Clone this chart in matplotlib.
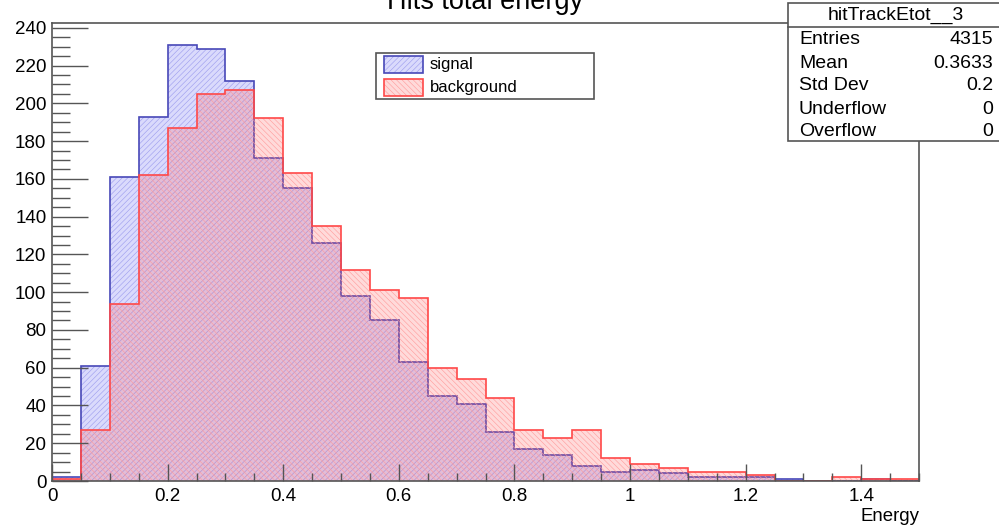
import numpy as np
import matplotlib
matplotlib.use("Agg")
import matplotlib.pyplot as plt
from matplotlib.patches import Rectangle
from matplotlib.ticker import MultipleLocator

plt.rcParams['font.family'] = ['Liberation Sans', 'DejaVu Sans']
plt.rcParams['hatch.linewidth'] = 0.4

# histogram data: 30 bins of 0.05 from 0 to 1.5
edges = np.linspace(0, 1.5, 31)
signal = [2, 61, 161, 193, 231, 229, 212, 171, 155, 126,
          98, 85, 63, 45, 41, 26, 17, 14, 8, 5,
          6, 4, 2, 2, 2, 1, 0, 0, 1, 0]
background = [1, 27, 94, 162, 187, 205, 207, 192, 163, 135,
              112, 101, 97, 60, 54, 44, 27, 23, 27, 12,
              9, 7, 5, 5, 3, 0, 0, 2, 1, 1]

stat_labels = ['Entries', 'Mean', 'Std Dev', 'Underflow', 'Overflow']
stat_values = ['4315', '0.3633', '0.2', '0', '0']

blue_line = '#4848b8'
blue_hatch = '#9a9aee'
blue_fill = (0.35, 0.35, 0.95, 0.22)
red_line = '#ff4848'
red_hatch = '#ff9a9a'
red_fill = (1.0, 0.35, 0.35, 0.22)
frame = '#555555'
hatch_b = '/' * 6
hatch_r = '\\' * 6

fig = plt.figure(figsize=(9.99, 5.25), dpi=100)
ax = fig.add_axes([52/999, 1-481/525, (919-52)/999, (481-23)/525])

# signal
ax.stairs(signal, edges, fill=True, facecolor=blue_fill, linewidth=0, baseline=0)
ax.stairs(signal, edges, fill=True, facecolor='none', edgecolor=blue_hatch,
          hatch=hatch_b, linewidth=0, baseline=0)
ax.stairs(signal, edges, color=blue_line, linewidth=1.2, baseline=0)
# background
ax.stairs(background, edges, fill=True, facecolor=red_fill, linewidth=0, baseline=0)
ax.stairs(background, edges, fill=True, facecolor='none', edgecolor=red_hatch,
          hatch=hatch_r, linewidth=0, baseline=0)
ax.stairs(background, edges, color=red_line, linewidth=1.2, baseline=0)

ax.set_xlim(0, 1.5)
ax.set_ylim(0, 1.05 * max(signal))

ax.xaxis.set_major_locator(MultipleLocator(0.2))
ax.xaxis.set_minor_locator(MultipleLocator(0.05))
ax.yaxis.set_major_locator(MultipleLocator(20))
ax.yaxis.set_minor_locator(MultipleLocator(5))
ax.xaxis.set_major_formatter(plt.FuncFormatter(lambda v, p: f'{v:g}'))
ax.tick_params(axis='both', which='both', direction='in', color=frame,
               labelsize=13.5, top=False, right=False)
ax.tick_params(axis='y', which='major', length=26, width=1, pad=4)
ax.tick_params(axis='y', which='minor', length=13, width=1)
ax.tick_params(axis='x', which='major', length=12, width=1, pad=5)
ax.tick_params(axis='x', which='minor', length=6, width=1)
for s in ax.spines.values():
    s.set_color(frame)
    s.set_linewidth(1.2)

fig.text(919/999, 1-521/525, 'Energy', ha='right', va='baseline', fontsize=13.4)
fig.text(485/999, 1-9/525, 'Hits total energy', ha='center', va='baseline',
         fontsize=19.5)

# legend box
fig.patches.append(Rectangle((376/999, 1-99/525), 218/999, 46/525,
                             transform=fig.transFigure, facecolor='white',
                             edgecolor=frame, linewidth=1.2, zorder=5))
legend_items = [('signal', blue_line, blue_hatch, blue_fill, hatch_b),
                ('background', red_line, red_hatch, red_fill, hatch_r)]
for i, (name, lc, hc, fc, hp) in enumerate(legend_items):
    y0 = 56 + i * 23
    box = (384/999, 1-(y0+17)/525)
    fig.patches.append(Rectangle(box, 39/999, 17/525, transform=fig.transFigure,
                                 facecolor=fc, linewidth=0, zorder=6))
    fig.patches.append(Rectangle(box, 39/999, 17/525, transform=fig.transFigure,
                                 facecolor='none', edgecolor=hc, hatch=hp,
                                 linewidth=0, zorder=6))
    fig.patches.append(Rectangle(box, 39/999, 17/525, transform=fig.transFigure,
                                 facecolor='none', edgecolor=lc, linewidth=1.2,
                                 zorder=7))
    fig.text(430/999, 1-(y0+13)/525, name, fontsize=12, va='baseline', zorder=8)

# stats box
fig.patches.append(Rectangle((788/999, 1-141/525), 215/999, 138/525,
                             transform=fig.transFigure, facecolor='white',
                             edgecolor=frame, linewidth=1.2, zorder=5))
fig.lines.append(plt.Line2D([788/999, 1], [1-26.5/525, 1-26.5/525],
                            transform=fig.transFigure, color=frame,
                            linewidth=1.2, zorder=6))
fig.text(896/999, 1-20/525, 'hitTrackEtot__3', ha='center', va='baseline',
         fontsize=14, zorder=8)
for i, (lab, val) in enumerate(zip(stat_labels, stat_values)):
    yb = 44.5 + i * 23
    fig.text(799/999, 1-yb/525, lab, ha='left', va='baseline', fontsize=14,
             zorder=8)
    fig.text(993/999, 1-yb/525, val, ha='right', va='baseline', fontsize=14,
             zorder=8)

fig.savefig('out.png', dpi=100)
